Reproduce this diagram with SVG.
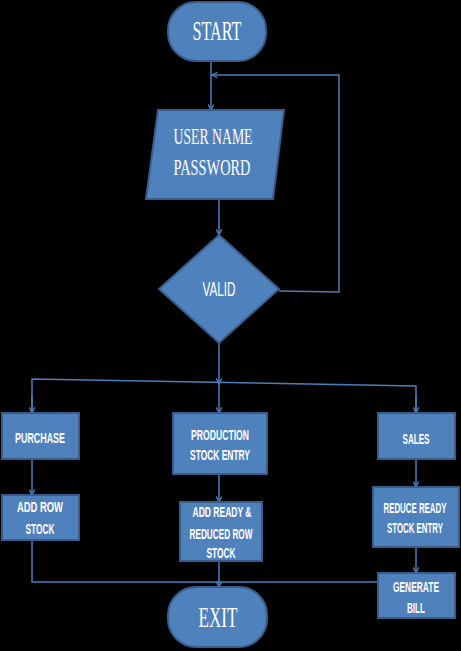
<svg xmlns="http://www.w3.org/2000/svg" width="461" height="651" viewBox="0 0 461 651">
<style>
.node{fill:#4F81BD;stroke:#385D8A;stroke-width:2}
.ser{font-family:"Liberation Serif",serif;fill:#fff;text-anchor:middle}
.san{font-family:"Liberation Sans",sans-serif;fill:#fff;text-anchor:middle;font-weight:bold;font-size:14px}
.ln{fill:none;stroke:#4A7EBB;stroke-width:1.5}
</style>
<defs>
<marker id="ar" viewBox="0 0 10 10" refX="9" refY="5" markerWidth="7" markerHeight="7" orient="auto" markerUnits="userSpaceOnUse">
<path d="M1,1 L9,5 L1,9" fill="none" stroke="#4A7EBB" stroke-width="1.8"/>
</marker>
</defs>
<rect width="461" height="651" fill="#000"/>
<g id="connectors">
<line class="ln" x1="211" y1="62" x2="211" y2="110" marker-end="url(#ar)"/>
<polyline class="ln" points="279,291 339,292 339,75 212,75" marker-end="url(#ar)"/>
<line class="ln" x1="219" y1="199" x2="219" y2="235" marker-end="url(#ar)"/>
<line class="ln" x1="219" y1="343" x2="219" y2="384" marker-end="url(#ar)"/>
<line class="ln" x1="219" y1="384" x2="219" y2="413" marker-end="url(#ar)"/>
<polyline class="ln" points="32,413 32,379 416,386 416,413"/>
<line class="ln" x1="32" y1="395" x2="32" y2="413" marker-end="url(#ar)"/>
<line class="ln" x1="416" y1="395" x2="416" y2="413" marker-end="url(#ar)"/>
<line class="ln" x1="32" y1="459" x2="32" y2="495" marker-end="url(#ar)"/>
<line class="ln" x1="219" y1="474" x2="219" y2="502" marker-end="url(#ar)"/>
<line class="ln" x1="416" y1="459" x2="416" y2="487" marker-end="url(#ar)"/>
<line class="ln" x1="416" y1="547" x2="416" y2="573" marker-end="url(#ar)"/>
<polyline class="ln" points="32,540 32,582 378,582"/>
<line class="ln" x1="219" y1="561" x2="219" y2="587" marker-end="url(#ar)"/>
</g>
<g id="start">
<rect class="node" x="168" y="2" width="98" height="59" rx="28"/>
<text class="ser" x="217" y="40" font-size="27" textLength="49" lengthAdjust="spacingAndGlyphs">START</text>
</g>
<g id="login">
<polygon class="node" points="158,110 284,110 273,199 146,199"/>
<text class="ser" x="213" y="144" font-size="23" textLength="79" lengthAdjust="spacingAndGlyphs">USER NAME</text>
<text class="ser" x="212" y="175" font-size="23" textLength="77" lengthAdjust="spacingAndGlyphs">PASSWORD</text>
</g>
<g id="valid">
<polygon class="node" points="219,235 279,289 219,343 159,289"/>
<text x="219" y="296" font-family="Liberation Sans,sans-serif" fill="#fff" text-anchor="middle" font-size="20" textLength="33" lengthAdjust="spacingAndGlyphs">VALID</text>
</g>
<g id="purchase">
<rect class="node" x="2" y="413" width="77" height="46"/>
<text class="san" x="40" y="443" textLength="50" lengthAdjust="spacingAndGlyphs">PURCHASE</text>
</g>
<g id="production">
<rect class="node" x="173" y="413" width="94" height="61"/>
<text class="san" x="220" y="440" textLength="58" lengthAdjust="spacingAndGlyphs">PRODUCTION</text>
<text class="san" x="220" y="460" textLength="60" lengthAdjust="spacingAndGlyphs">STOCK  ENTRY</text>
</g>
<g id="sales">
<rect class="node" x="378" y="413" width="77" height="46"/>
<text class="san" x="416" y="444" textLength="27" lengthAdjust="spacingAndGlyphs">SALES</text>
</g>
<g id="addrow">
<rect class="node" x="2" y="495" width="77" height="45"/>
<text class="san" x="40" y="512" textLength="46" lengthAdjust="spacingAndGlyphs">ADD ROW</text>
<text class="san" x="40" y="534" textLength="29" lengthAdjust="spacingAndGlyphs">STOCK</text>
</g>
<g id="addready">
<rect class="node" x="180" y="502" width="82" height="59"/>
<text class="san" x="222" y="517" textLength="59" lengthAdjust="spacingAndGlyphs">ADD READY &amp;</text>
<text class="san" x="221" y="539" textLength="63" lengthAdjust="spacingAndGlyphs">REDUCED ROW</text>
<text class="san" x="221" y="558" textLength="29" lengthAdjust="spacingAndGlyphs">STOCK</text>
</g>
<g id="reduce">
<rect class="node" x="373" y="487" width="86" height="60"/>
<text class="san" x="415" y="513" textLength="63" lengthAdjust="spacingAndGlyphs">REDUCE READY</text>
<text class="san" x="415" y="533" textLength="56" lengthAdjust="spacingAndGlyphs">STOCK ENTRY</text>
</g>
<g id="bill">
<rect class="node" x="378" y="573" width="77" height="45"/>
<text class="san" x="416" y="592" textLength="46" lengthAdjust="spacingAndGlyphs">GENERATE</text>
<text class="san" x="416" y="613" textLength="18" lengthAdjust="spacingAndGlyphs">BILL</text>
</g>
<g id="exit">
<rect class="node" x="168" y="587" width="99" height="60" rx="28"/>
<text class="ser" x="218" y="627" font-size="29" textLength="39" lengthAdjust="spacingAndGlyphs">EXIT</text>
</g>
</svg>
